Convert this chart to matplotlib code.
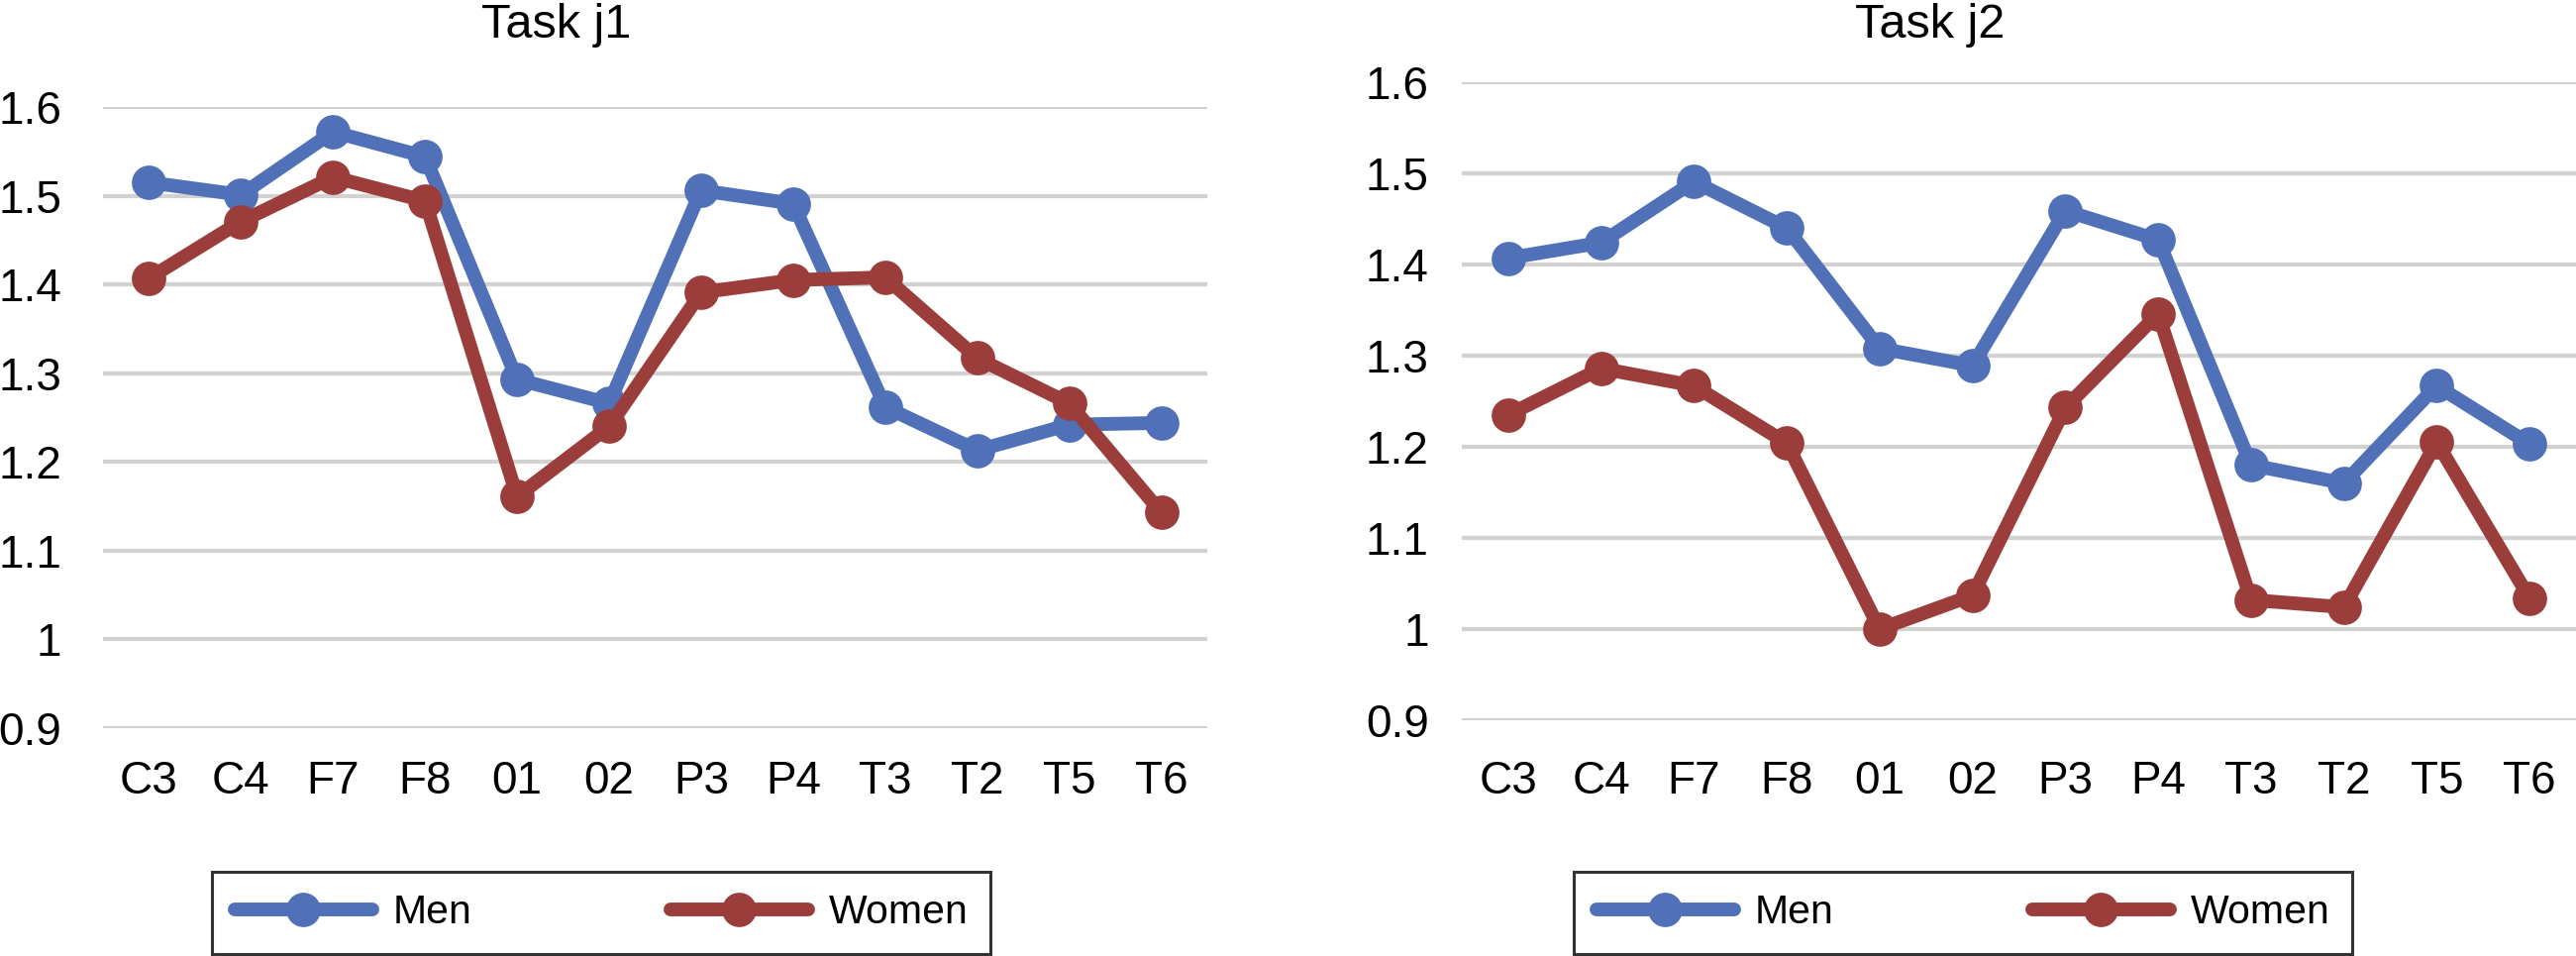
import matplotlib
matplotlib.use("Agg")
import matplotlib.pyplot as plt
from matplotlib.ticker import FuncFormatter

plt.rcParams["font.family"] = ["Liberation Sans", "DejaVu Sans"]

# Electrode positions on the x axis
electrodes = ["C3", "C4", "F7", "F8", "01", "02", "P3", "P4", "T3", "T2", "T5", "T6"]

# Task j1 values
j1_men = [1.515, 1.501, 1.572, 1.544, 1.293, 1.266, 1.506, 1.491, 1.262, 1.213, 1.242, 1.244]
j1_women = [1.407, 1.471, 1.521, 1.494, 1.161, 1.240, 1.391, 1.405, 1.408, 1.317, 1.266, 1.143]

# Task j2 values
j2_men = [1.407, 1.424, 1.491, 1.440, 1.308, 1.289, 1.459, 1.427, 1.180, 1.160, 1.267, 1.203]
j2_women = [1.235, 1.286, 1.267, 1.204, 1.000, 1.037, 1.243, 1.346, 1.032, 1.024, 1.205, 1.034]

titles = ["Task j1", "Task j2"]
series_names = ["Men", "Women"]

blue = "#5070B8"
red = "#9B3E3B"
grid_gray = "#D2D2D2"

W, H = 2601, 965
fig = plt.figure(figsize=(W / 100, H / 100), dpi=100)

# axes boxes in pixels: (left, right, top(1.6), bottom(0.9))
boxes = [(104, 1219, 108, 735), (1476, 2601, 83, 727)]
title_x = [562, 1949]
legend_x = [214, 1589]
ytick_pad = [30, 24]
xtick_pad = [23, 29]

data = [(j1_men, j1_women), (j2_men, j2_women)]

for i, (men, women) in enumerate(data):
    l, r, t, b = boxes[i]
    ax = fig.add_axes([l / W, 1 - b / H, (r - l) / W, (b - t) / H])
    x = list(range(len(electrodes)))
    ax.plot(x, men, color=blue, lw=10, marker="o", ms=25, mew=0,
            solid_capstyle="round", solid_joinstyle="round", label=series_names[0], zorder=3)
    ax.plot(x, women, color=red, lw=10, marker="o", ms=25, mew=0,
            solid_capstyle="round", solid_joinstyle="round", label=series_names[1], zorder=4)
    ax.set_xlim(-0.5, len(electrodes) - 0.5)
    ax.set_ylim(0.9, 1.6)
    ax.set_yticks([0.9, 1.0, 1.1, 1.2, 1.3, 1.4, 1.5, 1.6])
    ax.yaxis.set_major_formatter(FuncFormatter(lambda v, p: "%g" % round(v, 1)))
    ax.set_xticks(x)
    ax.set_xticklabels(electrodes)
    ax.tick_params(axis="y", length=0, pad=ytick_pad[i], labelsize=33)
    ax.tick_params(axis="x", length=0, pad=xtick_pad[i], labelsize=33)
    for s in ax.spines.values():
        s.set_visible(False)
    ax.grid(axis="y", color=grid_gray, lw=3)
    ax.set_axisbelow(True)

    fig.text(title_x[i] / W, 1 - 38 / H, titles[i], ha="center", va="baseline", fontsize=35)

    leg = fig.legend(*ax.get_legend_handles_labels(), loc="lower left", ncol=2,
                     bbox_to_anchor=(legend_x[i] / W, 2 / H),
                     fontsize=29.5, frameon=True, fancybox=False,
                     edgecolor="black", handlelength=3.4, handletextpad=0.5,
                     borderpad=0.55, borderaxespad=0, columnspacing=4.9)
    leg.get_frame().set_linewidth(2.2)

fig.savefig("out.png", dpi=100)
